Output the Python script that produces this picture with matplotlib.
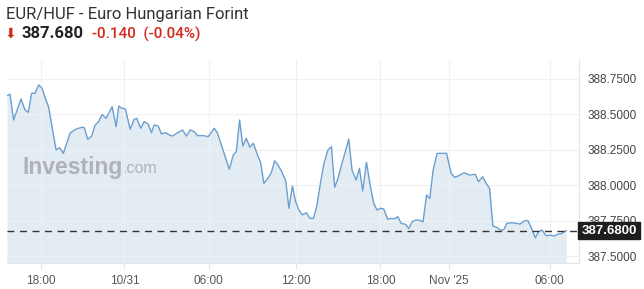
import matplotlib
matplotlib.use("Agg")
import matplotlib.pyplot as plt
import matplotlib.transforms as mtransforms

# EUR/HUF intraday quotes, position along the chart's bar axis and price
bar_pos = [0.0, 3.0, 6.6, 14.0, 18.0, 21.3, 24.6, 28.0, 31.6, 35.0, 38.3, 41.6, 45.0, 49.0,
           52.3, 56.3, 63.0, 67.3, 71.3, 75.0, 77.3, 80.6, 84.6, 88.0, 91.6, 95.0, 99.0, 105.0,
           109.0, 111.6, 114.3, 118.3, 123.0, 127.0, 129.6, 133.6, 137.0, 141.0, 144.3, 147.0,
           151.0, 154.3, 158.6, 162.0, 165.3, 169.6, 175.3, 179.3, 183.0, 187.0, 190.3, 196.3,
           201.0, 207.0, 210.3, 216.3, 222.0, 226.0, 229.0, 232.3, 235.6, 239.0, 242.6, 246.0,
           249.3, 253.3, 256.6, 260.6, 264.0, 267.3, 270.6, 274.0, 278.3, 281.6, 285.0, 288.3,
           291.6, 295.0, 299.0, 302.6, 306.0, 309.3, 313.3, 316.6, 320.6, 324.0, 327.3, 330.6,
           335.0, 337.3, 341.3, 344.6, 348.6, 352.0, 355.3, 359.0, 363.0, 366.3, 369.6, 373.0,
           376.3, 380.3, 383.6, 387.3, 390.3, 393.6, 398.0, 401.3, 404.6, 408.0, 412.3, 415.6,
           419.0, 422.3, 425.6, 429.6, 439.0, 443.6, 447.0, 451.3, 456.6, 462.0, 467.6, 471.0,
           475.0, 478.6, 482.0, 485.3, 489.3, 492.6, 496.0, 499.3, 504.3, 507.6, 512.6, 517.0,
           520.3, 524.3, 527.6, 531.0, 534.3, 538.6, 542.6, 546.6, 550.3, 554.3, 558.6]
price = [388.632, 388.642, 388.460, 388.609, 388.531, 388.515, 388.649, 388.649, 388.708,
         388.684, 388.614, 388.550, 388.413, 388.249, 388.265, 388.225, 388.367, 388.390,
         388.402, 388.409, 388.406, 388.324, 388.347, 388.425, 388.449, 388.500, 388.472,
         388.554, 388.413, 388.559, 388.545, 388.538, 388.395, 388.465, 388.472, 388.402,
         388.449, 388.432, 388.371, 388.425, 388.418, 388.362, 388.371, 388.355, 388.347,
         388.367, 388.390, 388.347, 388.390, 388.378, 388.350, 388.350, 388.343, 388.402,
         388.367, 388.237, 388.112, 388.213, 388.237, 388.460, 388.277, 388.331, 388.268,
         388.296, 388.230, 388.159, 388.013, 388.049, 388.088, 388.173, 388.143, 388.103,
         388.032, 387.837, 387.994, 387.883, 387.825, 387.790, 387.806, 387.766, 387.766,
         387.848, 388.025, 388.155, 388.249, 388.272, 387.985, 388.049, 388.166, 388.220,
         388.326, 388.107, 388.037, 388.119, 387.959, 388.162, 387.990, 387.872, 387.825,
         387.837, 387.832, 387.759, 387.766, 387.764, 387.778, 387.731, 387.724, 387.695,
         387.742, 387.754, 387.752, 387.742, 387.931, 387.907, 388.107, 388.225, 388.225,
         388.084, 388.056, 388.067, 388.088, 388.072, 388.077, 388.025, 388.060, 388.013,
         387.978, 387.712, 387.703, 387.684, 387.684, 387.731, 387.735, 387.731, 387.726,
         387.750, 387.750, 387.689, 387.629, 387.672, 387.684, 387.643, 387.648, 387.641,
         387.655, 387.660, 387.680]

tick_pos = [34.3, 117.3, 201.3, 289.0, 373.0, 441.6, 542.0]
tick_labels = ["18:00", "10/31", "06:00", "12:00", "18:00", "Nov '25", "06:00"]
y_ticks = [387.50, 387.75, 388.00, 388.25, 388.50, 388.75]

last_price = 387.68
change = -0.140
change_pct = -0.04

fig = plt.figure(figsize=(6.44, 2.89), dpi=100)
ax = fig.add_axes([7 / 644, 26.3 / 289, 572.3 / 644, 202.7 / 289])

ax.fill_between(bar_pos, price, 387.0, color="#e4ecf3", lw=0, zorder=1)
ax.plot(bar_pos, price, color="#6a9fcf", lw=1.0, zorder=2)
ax.axhline(last_price, color="#333333", lw=1.0, ls=(0, (5, 4)), zorder=3)

ax.set_xlim(0, 571.6)
ax.set_ylim(387.453, 388.884)

ax.set_xticks(tick_pos)
ax.set_xticklabels(tick_labels)
ax.set_yticks(y_ticks)
ax.set_yticklabels(["%.4f" % v for v in y_ticks])
ax.yaxis.tick_right()

ax.set_axisbelow("line")
ax.grid(True, color="#eef0f3", lw=0.8)
for s in ["top", "left"]:
    ax.spines[s].set_visible(False)
for s in ["right", "bottom"]:
    ax.spines[s].set_color("#e2e4e8")
    ax.spines[s].set_linewidth(0.8)

ax.tick_params(axis="x", length=4, color="#e2e4e8", labelsize=8.5, labelcolor="#555555", pad=5)
ax.tick_params(axis="y", length=0, labelsize=8.5, labelcolor="#444444", pad=6)
for lab in ax.get_xticklabels() + ax.get_yticklabels():
    lab.set_family("Liberation Sans")

# last price tag on the right axis (covers the 387.75 label like the original)
trans = mtransforms.blended_transform_factory(ax.transAxes, ax.transData)
ax.text(1.0 + 2 / 572.3, last_price, "%.4f" % last_price, transform=trans, ha="left", va="center",
        fontsize=9.5, fontweight="bold", color="white", family="Liberation Sans", clip_on=False,
        zorder=5, bbox=dict(boxstyle="square,pad=0.22", fc="#1e1e1e", ec="#1e1e1e"))

# watermark
ax.text((22 - 7) / 572.3, 0.47, "Investing", transform=ax.transAxes, fontsize=16.5,
        fontweight="bold", color="#b0b3b6", family="Liberation Sans", va="center", ha="left", zorder=1.2)
ax.text((122 - 7) / 572.3, 0.465, ".com", transform=ax.transAxes, fontsize=11.5,
        color="#b0b3b6", family="Liberation Sans", va="center", ha="left", zorder=1.2)

# header
fig.text(6 / 644, 1 - 14 / 289, "EUR/HUF - Euro Hungarian Forint", fontsize=12, color="#333333",
         family="Roboto", va="center", ha="left")
fig.text(5 / 644, 1 - 34 / 289, "\u2b07", fontsize=10, color="#d5281b", family=["DejaVu Sans"],
         va="center", ha="left")
fig.text(21 / 644, 1 - 34 / 289, "%.3f" % last_price, fontsize=12, fontweight="bold", color="#222222",
         family="Roboto", va="center", ha="left")
fig.text(92 / 644, 1 - 34 / 289, "%.3f  (%.2f%%)" % (change, change_pct), fontsize=11,
         fontweight="medium", color="#d5281b", family="Roboto", va="center", ha="left")

fig.savefig("out.png", dpi=100)
